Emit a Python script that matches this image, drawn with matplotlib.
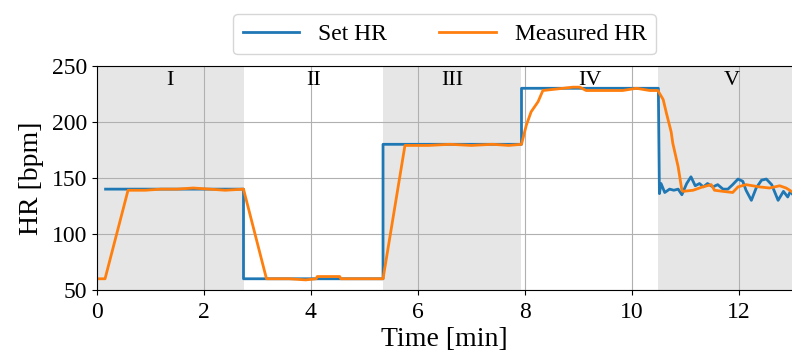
import numpy as np
import matplotlib.pyplot as plt

plt.rcParams['font.family'] = ['Liberation Serif', 'DejaVu Serif']
plt.rcParams['mathtext.fontset'] = 'stix'

# set heart rate (step profile, noisy in phase V)
set_t = [0.16, 2.74, 2.74, 5.35, 5.35, 7.94, 7.94, 10.50, 10.52, 10.55, 10.62, 10.71,
         10.79, 10.87, 10.94, 11.03, 11.11, 11.19, 11.27, 11.34, 11.42, 11.52, 11.61,
         11.71, 11.80, 11.89, 11.99, 12.08, 12.14, 12.24, 12.33, 12.43, 12.52, 12.62,
         12.74, 12.84, 12.92, 12.97, 13.0]
set_hr = [140, 140, 60, 60, 180, 180, 230, 230, 136, 145, 137, 140,
          139, 140, 135, 145, 151, 143, 145, 142, 145, 142, 144,
          140, 140, 144, 149, 147, 139, 130, 141, 148, 149, 144,
          130, 138, 133, 138, 136]

# measured heart rate
meas_t = [0.0, 0.15, 0.58, 0.9, 1.2, 1.5, 1.8, 2.1, 2.4, 2.74, 3.17, 3.6, 3.9, 4.1,
          4.12, 4.54, 4.56, 5.0, 5.35, 5.76, 6.2, 6.6, 7.0, 7.4, 7.7, 7.94, 8.03,
          8.12, 8.25, 8.34, 8.53, 8.72, 8.9, 9.03, 9.15, 9.46, 9.83, 10.09, 10.34,
          10.49, 10.59, 10.65, 10.74, 10.77, 10.87, 10.94, 10.96, 11.15, 11.33,
          11.49, 11.55, 11.71, 11.89, 11.99, 12.14, 12.39, 12.58, 12.77, 12.89, 12.99]
meas_hr = [60, 60, 139, 139, 140, 140, 141, 140, 139, 140, 60, 60, 59, 60,
           62, 62, 60, 60, 60, 179, 179, 180, 179, 180, 179, 180, 197,
           209, 218, 228, 229, 230, 231, 231, 228, 228, 228, 230, 228,
           228, 220, 208, 191, 181, 160, 139, 138, 139, 142,
           144, 139, 138, 137, 142, 144, 142, 141, 143, 141, 138]

phases = ['I', 'II', 'III', 'IV', 'V']
phase_edges = [0.0, 2.74, 5.35, 7.94, 10.5, 13.24]
shaded = [True, False, True, False, True]

fig = plt.figure(figsize=(7.92, 3.58), dpi=100)
ax = fig.add_axes([0.1225, 0.19, 0.8775, 0.626])

for i, name in enumerate(phases):
    a, b = phase_edges[i], phase_edges[i + 1]
    if shaded[i]:
        ax.axvspan(a, b, color='#e6e6e6', lw=0, zorder=0)
    ax.text((a + b) / 2, 245, name, ha='center', va='top', fontsize=16)

ax.plot(set_t, set_hr, color='#1f77b4', lw=2, label='Set HR')
ax.plot(meas_t, meas_hr, color='#ff7f0e', lw=2, label='Measured HR')

ax.set_xlim(0, 13.0)
ax.set_ylim(50, 250)
ax.set_xticks([0, 2, 4, 6, 8, 10, 12])
ax.set_yticks([50, 100, 150, 200, 250])
ax.grid(True, color='#b0b0b0', lw=0.8)
ax.set_axisbelow(True)
ax.tick_params(labelsize=17)
ax.tick_params(axis='x', pad=5)
ax.set_xlabel('Time [min]', fontsize=20, labelpad=3)
ax.set_ylabel('HR [bpm]', fontsize=20, labelpad=6)
ax.spines['right'].set_visible(False)

ax.legend(loc='lower center', bbox_to_anchor=(0.5, 1.03), ncol=2, fontsize=17,
          handlelength=2.4, columnspacing=2.2, borderaxespad=0.2, frameon=True)

fig.savefig('out.png', dpi=100)
